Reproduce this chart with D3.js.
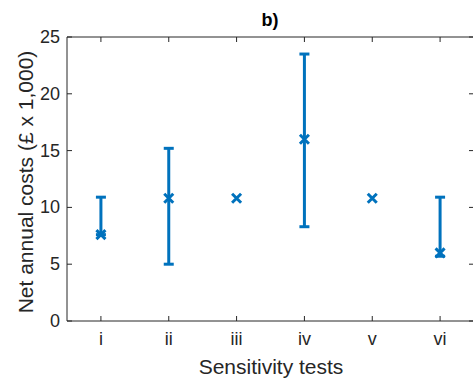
<!DOCTYPE html>
<html>
<head>
<meta charset="utf-8">
<script src="https://cdn.jsdelivr.net/npm/d3@7"></script>
<style>
body{margin:0;background:#fff;}
svg{display:block;font-family:"Liberation Sans",Arial,sans-serif;}
</style>
</head>
<body>
<div id="chart"></div>
<script>
const tests=["i","ii","iii","iv","v","vi"];
const costs=[7.6,10.8,10.8,16.0,10.8,6.0];
const upper=[10.9,15.2,10.8,23.5,10.8,10.9];
const lower=[7.6,5.0,10.8,8.3,10.8,5.7];
const yTicks=[0,5,10,15,20,25];

const w=473,h=385;
const m={top:37,right:-1,bottom:64,left:67};
const blue="#0072BD",ink="#262626";

const svg=d3.select("#chart").append("svg").attr("width",w).attr("height",h);

const x=d3.scaleLinear().domain([0.5,6.5]).range([m.left,w-m.right]);
const y=d3.scaleLinear().domain([0,25]).range([h-m.bottom,m.top]);

const tl=5;
// box
svg.append("path")
  .attr("d",`M${x(0.5)},${y(0)}H${x(6.5)}M${x(0.5)},${y(0)}V${y(25)}H${x(6.5)}V${y(0)}`)
  .attr("fill","none").attr("stroke",ink).attr("stroke-width",1);

// x ticks (inward, bottom and top)
tests.forEach((t,i)=>{
  const xx=x(i+1);
  svg.append("line").attr("x1",xx).attr("x2",xx).attr("y1",y(0)).attr("y2",y(0)-tl).attr("stroke",ink);
  svg.append("line").attr("x1",xx).attr("x2",xx).attr("y1",y(25)).attr("y2",y(25)+tl).attr("stroke",ink);
  svg.append("text").attr("x",xx).attr("y",y(0)+24).attr("text-anchor","middle")
    .attr("font-size",18).attr("fill",ink).text(t);
});
yTicks.forEach(v=>{
  const yy=y(v);
  svg.append("line").attr("x1",x(0.5)).attr("x2",x(0.5)+tl).attr("y1",yy).attr("y2",yy).attr("stroke",ink);
  svg.append("line").attr("x1",x(6.5)).attr("x2",x(6.5)-tl).attr("y1",yy).attr("y2",yy).attr("stroke",ink);
  svg.append("text").attr("x",x(0.5)-7).attr("y",yy+6).attr("text-anchor","end")
    .attr("font-size",18).attr("fill",ink).text(v);
});

// error bars
const cap=5;
costs.forEach((c,i)=>{
  const xx=x(i+1);
  if(upper[i]!==lower[i]){
    svg.append("line").attr("x1",xx).attr("x2",xx).attr("y1",y(lower[i])).attr("y2",y(upper[i]))
      .attr("stroke",blue).attr("stroke-width",3);
    [lower[i],upper[i]].forEach(v=>{
      svg.append("line").attr("x1",xx-cap).attr("x2",xx+cap).attr("y1",y(v)).attr("y2",y(v))
        .attr("stroke",blue).attr("stroke-width",3);
    });
  }
  const s=4.5;
  const yy=y(c);
  svg.append("path").attr("d",`M${xx-s},${yy-s}L${xx+s},${yy+s}M${xx-s},${yy+s}L${xx+s},${yy-s}`)
    .attr("stroke",blue).attr("stroke-width",3).attr("fill","none");
});

svg.append("text").attr("x",270).attr("y",26).attr("text-anchor","middle")
  .attr("font-size",18).attr("font-weight","bold").attr("fill","#000").text("b)");
svg.append("text").attr("x",271).attr("y",374).attr("text-anchor","middle")
  .attr("font-size",21).attr("fill",ink).text("Sensitivity tests");
svg.append("text").attr("transform",`translate(33,182) rotate(-90)`).attr("text-anchor","middle")
  .attr("font-size",21).attr("fill",ink).text("Net annual costs (£ x 1,000)");
</script>
</body>
</html>
